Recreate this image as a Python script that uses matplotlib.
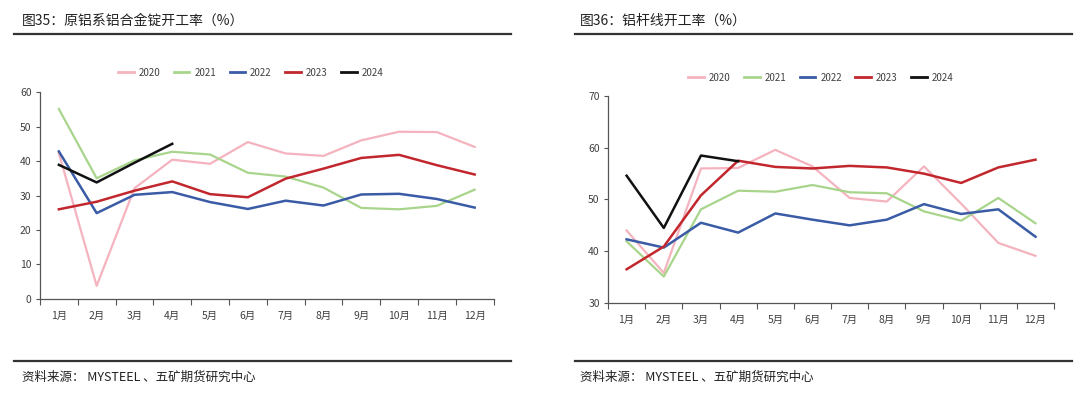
import matplotlib
matplotlib.use("Agg")
import matplotlib.pyplot as plt
from matplotlib.lines import Line2D

plt.rcParams["font.family"] = ["Noto Sans CJK SC", "DejaVu Sans"]

months = ["1月", "2月", "3月", "4月", "5月", "6月", "7月", "8月", "9月", "10月", "11月", "12月"]
years = ["2020", "2021", "2022", "2023", "2024"]
colors = ["#F4B3BE", "#A8D58B", "#3A5BA5", "#C1272D", "#111111"]
widths = [1.6, 1.6, 1.8, 1.8, 1.8]

# 图35 原铝系铝合金锭开工率
ingot_2020 = [42.3, 3.8, 32.1, 40.4, 39.2, 45.5, 42.2, 41.5, 46.0, 48.5, 48.4, 44.1]
ingot_2021 = [55.1, 35.0, 40.2, 42.7, 41.9, 36.6, 35.5, 32.3, 26.4, 26.0, 27.0, 31.7]
ingot_2022 = [42.8, 24.9, 30.2, 31.0, 28.1, 26.1, 28.5, 27.1, 30.3, 30.5, 29.0, 26.5]
ingot_2023 = [26.0, 28.2, 31.4, 34.1, 30.4, 29.5, 34.9, 37.8, 40.9, 41.8, 38.8, 36.1]
ingot_2024 = [38.9, 33.8, 39.5, 45.0]

# 图36 铝杆线开工率
rod_2020 = [44.0, 35.8, 56.0, 56.1, 59.6, 56.4, 50.3, 49.6, 56.4, 49.2, 41.6, 39.1]
rod_2021 = [41.9, 35.1, 48.1, 51.7, 51.5, 52.8, 51.4, 51.2, 47.7, 45.9, 50.3, 45.4]
rod_2022 = [42.3, 40.7, 45.5, 43.6, 47.3, 46.1, 45.0, 46.1, 49.1, 47.2, 48.1, 42.8]
rod_2023 = [36.5, 40.9, 50.8, 57.5, 56.3, 56.0, 56.5, 56.2, 55.0, 53.2, 56.2, 57.7]
rod_2024 = [54.6, 44.5, 58.5, 57.4]

panels = [
    dict(title="图35：原铝系铝合金锭开工率（%）",
         series=[ingot_2020, ingot_2021, ingot_2022, ingot_2023, ingot_2024],
         ylim=(0, 60), yticks=range(0, 61, 10),
         rect=[0.037, 0.247, 0.420, 0.521], tx=0.020, x0=0.013, x1=0.473, lx=0.232, ly=0.817),
    dict(title="图36：铝杆线开工率（%）",
         series=[rod_2020, rod_2021, rod_2022, rod_2023, rod_2024],
         ylim=(30, 70), yticks=range(30, 71, 10),
         rect=[0.563, 0.237, 0.413, 0.521], tx=0.537, x0=0.532, x1=0.993, lx=0.760, ly=0.804),
]

fig = plt.figure(figsize=(10.8, 3.97), dpi=100)

for p in panels:
    ax = fig.add_axes(p["rect"])
    x = list(range(len(months)))
    for yr, vals, c, w in zip(years, p["series"], colors, widths):
        ax.plot(x[:len(vals)], vals, color=c, lw=w, label=yr)
    ax.set_xlim(-0.5, 11.5)
    ax.set_ylim(*p["ylim"])
    ax.set_yticks(list(p["yticks"]))
    ax.set_xticks(x)
    ax.set_xticklabels(months)
    ax.set_xticks([i - 0.5 for i in range(13)], minor=True)
    ax.tick_params(axis="x", which="major", length=0, pad=9, labelsize=7.5, colors="#404040")
    ax.tick_params(axis="x", which="minor", length=4, color="#555555", width=0.8)
    ax.tick_params(axis="y", length=3, color="#555555", width=0.8, labelsize=7.5, labelcolor="#404040", pad=3)
    for s in ["top", "right"]:
        ax.spines[s].set_visible(False)
    for s in ["left", "bottom"]:
        ax.spines[s].set_color("#555555")
        ax.spines[s].set_linewidth(0.9)

    handles = [Line2D([], [], color=c, lw=2) for c in colors]
    fig.legend(handles, years, loc="center", bbox_to_anchor=(p["lx"], p["ly"]), ncol=5,
               frameon=False, fontsize=7, handlelength=1.6, columnspacing=1.4,
               handletextpad=0.5, labelcolor="#404040")

    fig.text(p["tx"], 0.948, p["title"], fontsize=10, va="center", ha="left", color="#222222")
    fig.add_artist(Line2D([p["x0"], p["x1"]], [0.914, 0.914], color="#333333", lw=1.6))
    fig.add_artist(Line2D([p["x0"], p["x1"]], [0.091, 0.091], color="#333333", lw=1.6))
    fig.text(p["tx"], 0.050, "资料来源： MYSTEEL 、五矿期货研究中心", fontsize=9, va="center",
             ha="left", color="#222222")

fig.savefig("out.png", dpi=100)
